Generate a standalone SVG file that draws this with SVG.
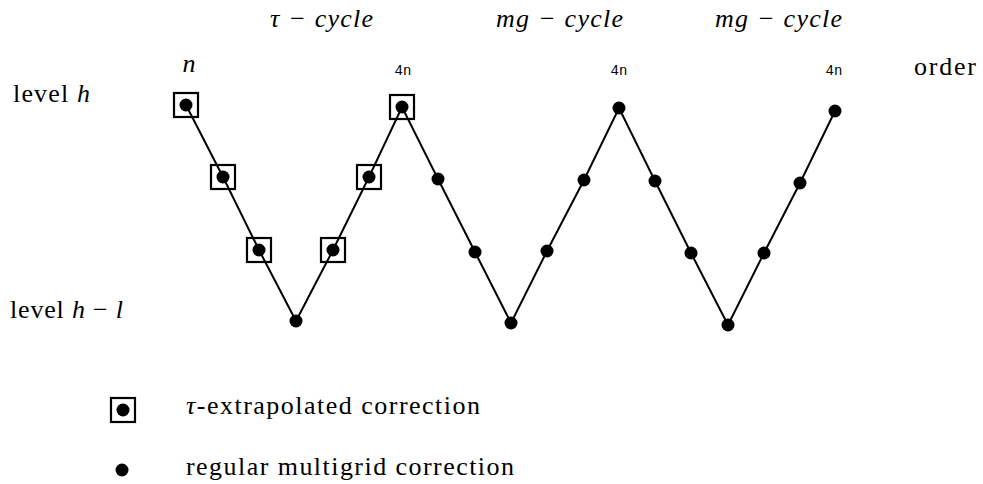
<svg xmlns="http://www.w3.org/2000/svg" width="983" height="484" viewBox="0 0 983 484">
<style>
.t{font-family:"Liberation Serif","DejaVu Serif",serif;font-size:26px;fill:#000}
.i{font-style:italic}
.m{font-family:"Liberation Mono","DejaVu Sans Mono",monospace;font-size:14px;fill:#000}
.sq{fill:none;stroke:#000;stroke-width:2.2}
.ln{fill:none;stroke:#000;stroke-width:2}
</style>
<defs>
<circle id="dot" r="6.5" fill="#000"/>
<rect id="box" x="-12" y="-12" width="24" height="24" class="sq"/>
</defs>
<rect width="983" height="484" fill="#fff"/>
<g id="connectors">
<polyline class="ln" points="186,105 223,177 259,250 296,321 333,250 369,177 402,107 438,179 475,252 511,323 547,251 584,180 619,108 655,181 691,253 728,325 764,253 800,183 835,111"/>
</g>
<g id="n1"><use href="#box" x="186" y="105"/><use href="#dot" x="186" y="105"/></g>
<g id="n2"><use href="#box" x="223" y="177"/><use href="#dot" x="223" y="177"/></g>
<g id="n3"><use href="#box" x="259" y="250"/><use href="#dot" x="259" y="250"/></g>
<g id="n4"><use href="#dot" x="296" y="321"/></g>
<g id="n5"><use href="#box" x="333" y="250"/><use href="#dot" x="333" y="250"/></g>
<g id="n6"><use href="#box" x="369" y="177"/><use href="#dot" x="369" y="177"/></g>
<g id="n7"><use href="#box" x="402" y="107"/><use href="#dot" x="402" y="107"/></g>
<g id="n8"><use href="#dot" x="438" y="179"/></g>
<g id="n9"><use href="#dot" x="475" y="252"/></g>
<g id="n10"><use href="#dot" x="511" y="323"/></g>
<g id="n11"><use href="#dot" x="547" y="251"/></g>
<g id="n12"><use href="#dot" x="584" y="180"/></g>
<g id="n13"><use href="#dot" x="619" y="108"/></g>
<g id="n14"><use href="#dot" x="655" y="181"/></g>
<g id="n15"><use href="#dot" x="691" y="253"/></g>
<g id="n16"><use href="#dot" x="728" y="325"/></g>
<g id="n17"><use href="#dot" x="764" y="253"/></g>
<g id="n18"><use href="#dot" x="800" y="183"/></g>
<g id="n19"><use href="#dot" x="835" y="111"/></g>
<g id="labels">
<text class="t i" x="270" y="27" textLength="103">τ − cycle</text>
<text class="t i" x="496" y="27" textLength="127">mg − cycle</text>
<text class="t i" x="715" y="27" textLength="127">mg − cycle</text>
<text class="t i" x="189" y="72" text-anchor="middle">n</text>
<text class="m" x="403" y="75" text-anchor="middle">4n</text>
<text class="m" x="619" y="75" text-anchor="middle">4n</text>
<text class="m" x="834" y="75" text-anchor="middle">4n</text>
<text class="t" x="914" y="75" textLength="62">order</text>
<text class="t" x="13" y="102" textLength="77">level <tspan class="i">h</tspan></text>
<text class="t" x="10" y="318" textLength="113">level <tspan class="i">h</tspan> − <tspan class="i">l</tspan></text>
</g>
<g id="legend">
<use href="#box" x="123" y="410"/><use href="#dot" x="123" y="410"/>
<use href="#dot" x="122" y="470"/>
<text class="t" x="186" y="414" textLength="294"><tspan class="i">τ</tspan>-extrapolated correction</text>
<text class="t" x="186" y="475" textLength="328">regular multigrid correction</text>
</g>
</svg>
